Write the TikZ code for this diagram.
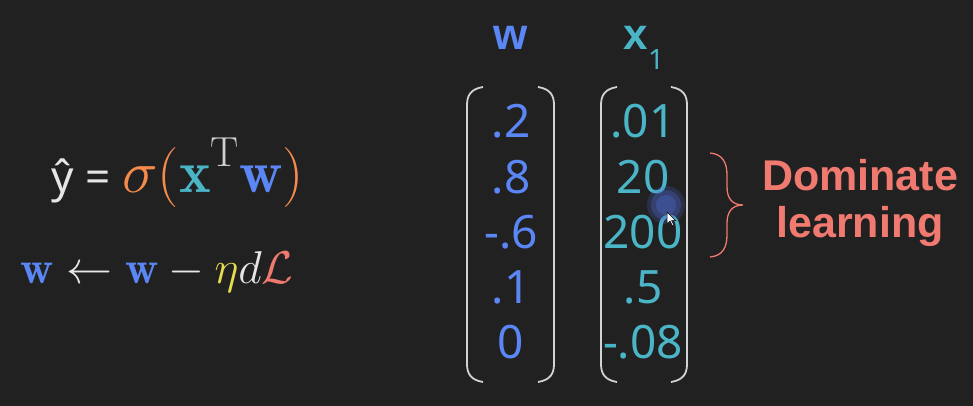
\RequirePackage{fix-cm}
\documentclass[tikz,border=0pt]{standalone}
\usepackage{fontspec}
\newfontfamily\nsans{Noto Sans}
\newfontfamily\bsans{Liberation Sans}
\definecolor{bg}{HTML}{212121}
\definecolor{wblue}{HTML}{5A87F5}
\definecolor{xteal}{HTML}{4BB5C8}
\definecolor{sal}{HTML}{F07A70}
\definecolor{sig}{HTML}{F58A4B}
\definecolor{eta}{HTML}{E6DC4E}
\definecolor{txt}{HTML}{E6E6E6}
\definecolor{tcol}{HTML}{CFCFCF}
\definecolor{brk}{HTML}{D2D2D2}
\definecolor{curs}{HTML}{4F6ED8}
\begin{document}
\begin{tikzpicture}[x=1pt,y=-1pt,
  val/.style={font=\nsans\fontsize{46}{50}\selectfont, anchor=base, inner sep=0pt},
  wval/.style={val, text=wblue},
  xval/.style={val, text=xteal},
  head/.style={font=\bsans\bfseries\fontsize{44}{48}\selectfont, anchor=base, inner sep=0pt},
  brkline/.style={draw=brk, line width=1.8pt},
  dom/.style={font=\bsans\bfseries\fontsize{43}{47}\selectfont, text=sal, anchor=base, inner sep=0pt}
]
\fill[bg] (0,0) rectangle (973,406);
\useasboundingbox (0,0) rectangle (973,406);

% formulas
\node[anchor=base, inner sep=0pt, text=txt, font=\fontsize{60}{66}\selectfont] (eq1) at (178,192)
  {{\nsans\fontsize{44}{50}\selectfont ŷ = }$\textcolor{sig}{\sigma(}{\color{xteal}\mathbf{x}}^{\raisebox{4pt}{$\scriptstyle\color{tcol}\mathrm{T}$}}{\color{wblue}\mathbf{w}}\textcolor{sig}{)}$};
\node[anchor=base, inner sep=0pt, text=txt, font=\fontsize{46}{52}\selectfont] (eq2) at (157,283)
  {$ {\color{wblue}\mathbf{w}} \mathrel{\color{txt}\leftarrow} {\color{wblue}\mathbf{w}} \mathbin{\color{txt}-} {\color{eta}\eta}{\color{txt}d}{\color{sal}\mathcal{L}}$};

% headers
\node[head, text=wblue] (hw) at (511,50) {w};
\node[head, text=xteal] (hx) at (636,50) {x};
\node[font=\nsans\fontsize{28}{30}\selectfont, text=xteal, anchor=base, inner sep=0pt] (hx1) at (656,70) {1};

% w column
\node[wval] (w1) at (511,138) {.2};
\node[wval] (w2) at (511,193) {.8};
\node[wval] (w3) at (511,248) {-.6};
\node[wval] (w4) at (511,303) {.1};
\node[wval] (w5) at (511,358) {0};

% x column
\node[xval] (x1) at (643,138) {.01};
\node[xval] (x2) at (643,193) {20};
\node[xval] (x3) at (643,248) {200};
\node[xval] (x4) at (643,303) {.5};
\node[xval] (x5) at (643,358) {-.08};

% brackets
\draw[brkline] (483,87) .. controls (471,89) and (467,95) .. (467,105) -- (467,364) .. controls (467,374) and (471,380) .. (483,382);
\draw[brkline] (538,87) .. controls (550,89) and (554,95) .. (554,105) -- (554,364) .. controls (554,374) and (550,380) .. (538,382);
\draw[brkline] (617,87) .. controls (605,89) and (601,95) .. (601,105) -- (601,364) .. controls (601,374) and (605,380) .. (617,382);
\draw[brkline] (671,87) .. controls (683,89) and (687,95) .. (687,105) -- (687,364) .. controls (687,374) and (683,380) .. (671,382);

% cursor highlight
\fill[curs, opacity=0.2] (666,205) circle (19);
\fill[curs, opacity=0.3] (666,205) circle (15);
\fill[curs, opacity=0.3] (666,205) circle (10);
\filldraw[fill=white, draw=black, line width=0.5pt] (667,212) -- (667,224) -- (670,221) -- (672.5,226) -- (674,225.3) -- (671.5,220.5) -- (675.5,220.5) -- cycle;

% brace
\coordinate (bt) at (710,153);
\coordinate (bb) at (710,257);
\coordinate (btip) at (743,205);
\draw[sal, line width=1.3pt] (bt) .. controls (722,154) and (727,162) .. (727,175) -- (727,187) .. controls (727,198) and (732,205) .. (btip)
  .. controls (732,205) and (727,212) .. (727,223) -- (727,235) .. controls (727,248) and (722,256) .. (bb);

% label
\node[dom] (lab1) at (860,190) {Dominate};
\node[dom] (lab2) at (860,237) {learning};
\end{tikzpicture}
\end{document}
